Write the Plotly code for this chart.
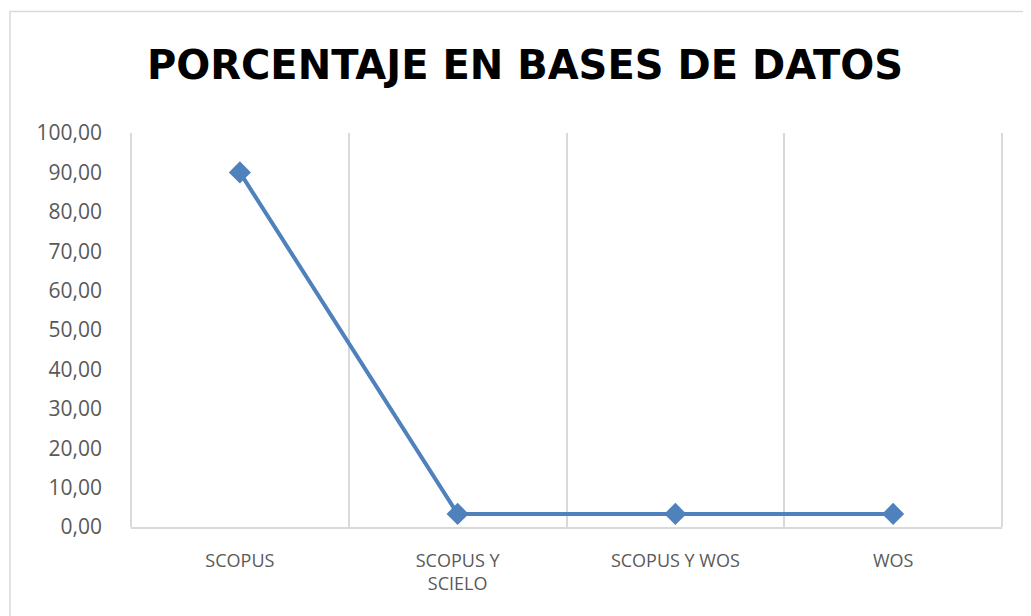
import plotly.graph_objects as go

categories = ["SCOPUS", "SCOPUS Y<br>SCIELO", "SCOPUS Y WOS", "WOS"]
values = [90.0, 3.33, 3.33, 3.33]
y_ticks = [0, 10, 20, 30, 40, 50, 60, 70, 80, 90, 100]

# page has an 8px body margin; size figure so it fills the 1031x616 window
OFF = 8
W, H = 1031 - OFF, 616 - OFF
# desired page-pixel plot box: x 131..1002, y 133..527
L, T = 131 - OFF, 133 - OFF
R = W - (1002 - OFF)
B = H - (527 - OFF)
pw, ph = W - L - R, H - T - B

fig = go.Figure()
fig.add_trace(go.Scatter(
    x=categories, y=values, mode="lines+markers",
    line=dict(color="#4F81BD", width=4),
    marker=dict(symbol="diamond", size=17, color="#4F81BD"),
    hoverinfo="x+y",
))

grey = "#D9D9D9"
fig.update_layout(
    width=W, height=H,
    margin=dict(l=L, r=R, t=T, b=B),
    paper_bgcolor="white", plot_bgcolor="white",
    separators=",.",
    showlegend=False,
    title=dict(text="<b>PORCENTAJE EN BASES DE DATOS</b>", x=(525 - OFF) / W, xanchor="center",
               y=1 - (65 - OFF) / H, yanchor="middle",
               font=dict(family="DejaVu Sans", size=40, color="black")),
    xaxis=dict(type="category", range=[-0.5, 3.5], tickson="boundaries",
               showgrid=True, gridcolor=grey, gridwidth=2,
               showline=True, linecolor=grey, linewidth=2,
               ticks="", ticklabelstandoff=16,
               tickfont=dict(family="Open Sans", size=18, color="#595959"),
               zeroline=False),
    yaxis=dict(range=[0, 100], tickvals=y_ticks, tickformat=".2f",
               showgrid=False, zeroline=False, showline=False, ticks="",
               ticklabelstandoff=28,
               tickfont=dict(family="Open Sans", size=21, color="#595959")),
)

# left and right edge gridlines of the plot area
for xe in (0, 1):
    fig.add_shape(type="line", xref="paper", yref="paper", x0=xe, x1=xe, y0=0, y1=1,
                  line=dict(color=grey, width=2), layer="below")

# outer chart border (partially cropped in reference)
x0 = (10 - OFF - L) / pw
y1 = (H - B - (11.5 - OFF)) / ph
fig.add_shape(type="rect", xref="paper", yref="paper",
              x0=x0, x1=(W + 20 - L) / pw, y0=-(B + 20) / ph, y1=y1,
              line=dict(color=grey, width=1.5), fillcolor="rgba(0,0,0,0)", layer="below")

fig.write_html("out.html")
